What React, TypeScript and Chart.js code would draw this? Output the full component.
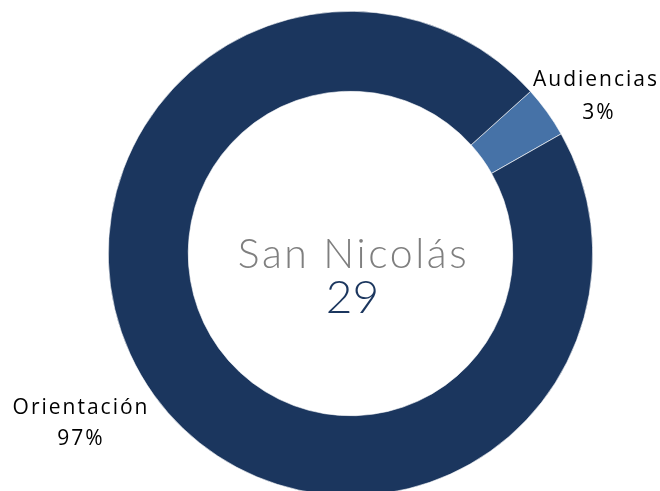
import React, { useEffect, useRef } from "react";
import { Chart, registerables } from "chart.js";

Chart.register(...registerables);

const categories: string[] = ["Audiencias", "Orientación"];
const values: number[] = [1, 28];
const percentLabels: string[] = ["3%", "97%"];
const centerTitle = "San Nicolás";
const centerTotal = "29";

const COLORS = ["#4672a7", "#1b365e"];

const labelPlugin = {
  id: "sliceLabels",
  afterDraw(chart: any) {
    const ctx = chart.ctx;
    const meta = chart.getDatasetMeta(0);
    ctx.save();
    ctx.textAlign = "center";
    ctx.textBaseline = "alphabetic";
    // outside labels
    ctx.fillStyle = "#000000";
    ctx.font = "21px 'Open Sans'";
    try { (ctx as any).letterSpacing = "2px"; } catch (e) {}
    const positions = [
      { x: 596, y: 86, y2: 119 },
      { x: 81, y: 414, y2: 445 },
    ];
    meta.data.forEach((arc: any, i: number) => {
      const p = positions[i];
      ctx.fillText(categories[i], p.x, p.y);
      ctx.fillText(percentLabels[i], p.x + (i === 0 ? 3 : 0), p.y2);
    });
    // center text
    const cx = (chart.chartArea.left + chart.chartArea.right) / 2;
    const cy = (chart.chartArea.top + chart.chartArea.bottom) / 2;
    ctx.fillStyle = "#7f7f7f";
    ctx.font = "300 41px Lato";
    (ctx as any).letterSpacing = "2.6px";
    ctx.fillText(centerTitle, cx + 3, cy + 14);
    (ctx as any).letterSpacing = "0px";
    ctx.fillStyle = "#1b365e";
    ctx.font = "300 46px Lato";
    ctx.fillText(centerTotal, cx + 2, cy + 59);
    ctx.restore();
  },
};

export default function App() {
  const ref = useRef<HTMLCanvasElement | null>(null);
  useEffect(() => {
    if (!ref.current) return;
    const chart = new Chart(ref.current, {
      type: "doughnut",
      data: {
        labels: categories,
        datasets: [
          {
            data: values,
            backgroundColor: COLORS,
            borderColor: "#ffffff",
            borderWidth: 0.6,
          },
        ],
      },
      options: {
        animation: false,
        responsive: false,
        rotation: 48,
        cutout: "67%",
        layout: { padding: { top: 11, bottom: 14, left: 108, right: 67 } },
        plugins: {
          legend: { display: false },
          tooltip: { enabled: false },
        },
      },
      plugins: [labelPlugin],
    });
    return () => chart.destroy();
  }, []);
  return (
    <div
      style={{
        position: "fixed",
        left: 0,
        top: 0,
        width: 660,
        height: 491,
        overflow: "hidden",
        background: "#ffffff",
      }}
    >
      <canvas ref={ref} width={660} height={510} style={{ display: "block" }} />
    </div>
  );
}
